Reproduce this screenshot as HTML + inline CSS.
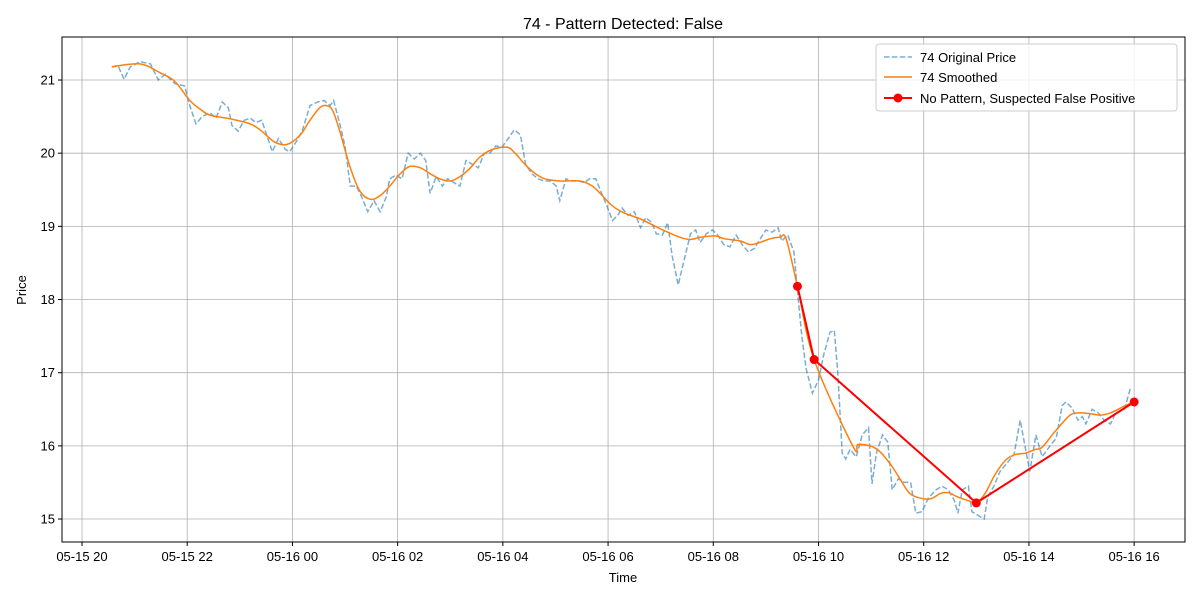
<!DOCTYPE html>
<html><head><meta charset="utf-8"><style>
body{margin:0;background:#fff;}
svg{font-family:"Liberation Sans","DejaVu Sans",sans-serif;}
</style></head><body>
<svg id="chart" width="1200" height="600" xmlns="http://www.w3.org/2000/svg">
<rect width="1200" height="600" fill="#fff"/>
<text x="623" y="29" text-anchor="middle" font-size="16">74 - Pattern Detected: False</text>
<g id="grid"></g>
<g id="series"></g>
<rect x="62" y="37" width="1123" height="505" fill="none" stroke="#000" stroke-width="1"/>
<g id="axes"></g>
<text x="623" y="582" text-anchor="middle" font-size="13">Time</text>
<text transform="translate(26,290) rotate(-90)" text-anchor="middle" font-size="13">Price</text>
<g>
<rect x="876" y="44" width="301" height="67" fill="#fff" fill-opacity="0.8" stroke="#ccc" rx="3"/>
<line x1="884" y1="57" x2="912" y2="57" stroke="#1f77b4" stroke-opacity="0.6" stroke-width="1.5" stroke-dasharray="5.5,2.4"/>
<text x="920" y="62" font-size="13">74 Original Price</text>
<line x1="884" y1="77" x2="912" y2="77" stroke="#ff7f0e" stroke-width="1.5"/>
<text x="920" y="82" font-size="13">74 Smoothed</text>
<line x1="884" y1="98" x2="912" y2="98" stroke="#f00" stroke-width="2"/>
<circle cx="898" cy="98" r="4.5" fill="#f00"/>
<text x="920" y="103" font-size="13">No Pattern, Suspected False Positive</text>
</g>
</svg>
<script>
// minutes since 05-15 20:00
const origT=[34,41,48,55,66,78,87,95,106,117,123,130,137,146,153,160,167,171,178,185,192,198,205,212,217,224,232,237,244,251,260,269,276,283,287,294,300,306,313,319,326,333,340,347,351,358,365,372,379,386,392,397,404,411,417,424,431,438,445,452,459,465,472,479,486,493,500,506,513,520,527,534,541,545,552,559,566,573,579,586,591,598,605,611,616,623,630,637,643,650,655,662,668,673,680,687,694,700,705,712,719,725,732,739,746,753,760,767,773,780,787,794,798,805,812,817,821,826,833,840,846,853,858,862,867,871,876,883,890,897,901,906,913,919,924,931,938,945,951,958,965,974,981,988,995,999,1004,1011,1015,1022,1029,1033,1040,1047,1054,1063,1070,1077,1081,1088,1095,1104,1111,1118,1122,1129,1136,1141,1145,1152,1159,1166,1173,1179,1189,1196];
const origP=[21.18,21.2,21.01,21.18,21.25,21.22,21.0,21.08,20.95,20.92,20.65,20.4,20.5,20.55,20.48,20.7,20.62,20.38,20.3,20.45,20.48,20.42,20.45,20.2,20.02,20.2,20.05,20.02,20.15,20.3,20.65,20.7,20.72,20.65,20.72,20.4,20.1,19.55,19.55,19.4,19.2,19.35,19.2,19.4,19.65,19.7,19.65,20.0,19.92,20.0,19.9,19.45,19.68,19.55,19.65,19.6,19.55,19.9,19.85,19.8,20.0,20.0,20.1,20.08,20.2,20.32,20.25,19.85,19.72,19.65,19.62,19.62,19.55,19.35,19.65,19.62,19.62,19.6,19.65,19.65,19.5,19.3,19.08,19.15,19.25,19.15,19.2,18.98,19.12,19.05,18.9,18.88,19.05,18.6,18.2,18.55,18.9,18.95,18.78,18.9,18.95,18.88,18.75,18.72,18.88,18.75,18.65,18.7,18.82,18.95,18.92,18.98,18.8,18.88,18.65,18.0,17.5,17.05,16.72,16.9,17.25,17.55,17.58,17.0,15.9,15.82,15.95,15.85,16.15,16.25,15.48,15.9,16.15,16.05,15.4,15.55,15.5,15.5,15.08,15.1,15.28,15.4,15.45,15.4,15.25,15.08,15.4,15.45,15.1,15.05,15.0,15.3,15.45,15.65,15.75,15.88,16.35,15.9,15.65,16.15,15.85,16.0,16.1,16.55,16.6,16.52,16.35,16.4,16.3,16.5,16.45,16.35,16.3,16.45,16.5,16.8];
const smT=[34,66,89,106,123,135,146,169,192,205,220,234,249,260,271,279,286,294,306,317,329,340,351,363,374,386,397,408,420,431,443,454,468,485,494,505,517,528,545,568,582,591,605,619,637,654,668,682,694,705,722,733,751,762,773,785,796,803,816,835,879,885,899,910,922,933,944,958,969,979,988,999,1011,1020,1030,1041,1053,1064,1076,1087,1095,1110,1127,1138,1150,1161,1173,1190,1200];
const smP=[21.18,21.22,21.1,20.98,20.72,20.6,20.52,20.47,20.4,20.3,20.15,20.12,20.25,20.45,20.62,20.65,20.58,20.3,19.8,19.48,19.37,19.42,19.55,19.72,19.82,19.8,19.72,19.65,19.62,19.68,19.8,19.95,20.05,20.08,20.0,19.85,19.72,19.65,19.62,19.62,19.55,19.45,19.28,19.18,19.1,19.0,18.92,18.85,18.82,18.85,18.87,18.83,18.8,18.75,18.78,18.83,18.85,18.83,18.18,17.18,16.0,16.02,16.0,15.92,15.75,15.55,15.35,15.28,15.28,15.35,15.36,15.3,15.25,15.22,15.35,15.6,15.8,15.88,15.9,15.95,15.98,16.2,16.42,16.45,16.44,16.42,16.45,16.55,16.6];
const patT=[816,835,1020,1200];
const patP=[18.18,17.18,15.22,16.6];
const xTicks=[0,120,240,360,480,600,720,840,960,1080,1200];
const xLabels=["05-15 20","05-15 22","05-16 00","05-16 02","05-16 04","05-16 06","05-16 08","05-16 10","05-16 12","05-16 14","05-16 16"];
const yTicks=[15,16,17,18,19,20,21];

const X0=62,X1=1185,Y0=37,Y1=542;
const tMin=-22.8,tMax=1258,pMin=14.686,pMax=21.588;
const sx=t=>X0+(t-tMin)/(tMax-tMin)*(X1-X0);
const sy=p=>Y1-(p-pMin)/(pMax-pMin)*(Y1-Y0);
const NS="http://www.w3.org/2000/svg";
function mk(tag,attrs,parent){const e=document.createElementNS(NS,tag);for(const k in attrs)e.setAttribute(k,attrs[k]);parent.appendChild(e);return e;}
const grid=document.getElementById('grid'),axes=document.getElementById('axes'),ser=document.getElementById('series');
xTicks.forEach((t,i)=>{const x=sx(t);
 const g=mk('line',{x1:x,x2:x,y1:Y0,y2:Y1,stroke:'#b0b0b0','stroke-width':0.8},grid);
 
 
 mk('line',{x1:x,x2:x,y1:Y1,y2:Y1+4,stroke:'#000'},axes);
 const tx=mk('text',{x:x,y:Y1+19,'text-anchor':'middle','font-size':13},axes);tx.textContent=xLabels[i];
 
 
});
yTicks.forEach(p=>{const y=sy(p);
 const g=mk('line',{x1:X0,x2:X1,y1:y,y2:y,stroke:'#b0b0b0','stroke-width':0.8},grid);
 
 
 mk('line',{x1:X0-4,x2:X0,y1:y,y2:y,stroke:'#000'},axes);
 const tx=mk('text',{x:X0-7,y:y+4.5,'text-anchor':'end','font-size':13},axes);tx.textContent=p;
 
 
});
const pts=(T,P)=>T.map((t,i)=>sx(t).toFixed(1)+','+sy(P[i]).toFixed(1)).join(' ');
function smoothPath(T,P){
 const p=T.map((t,i)=>[sx(t),sy(P[i])]);
 let d='M'+p[0][0].toFixed(1)+','+p[0][1].toFixed(1);
 for(let i=0;i<p.length-1;i++){
  const p0=p[i-1]||p[i],p1=p[i],p2=p[i+1],p3=p[i+2]||p2;
  const c1=[p1[0]+(p2[0]-p0[0])/6,p1[1]+(p2[1]-p0[1])/6];
  const c2=[p2[0]-(p3[0]-p1[0])/6,p2[1]-(p3[1]-p1[1])/6];
  d+=' C'+c1.map(v=>v.toFixed(1)).join(',')+' '+c2.map(v=>v.toFixed(1)).join(',')+' '+p2.map(v=>v.toFixed(1)).join(',');
 }
 return d;
}
const o=mk('polyline',{points:pts(origT,origP),fill:'none',stroke:'#1f77b4','stroke-opacity':0.6,'stroke-width':1.5,'stroke-dasharray':'5.5,2.4'},ser);


const s=mk('path',{d:smoothPath(smT,smP),fill:'none',stroke:'#ff7f0e','stroke-width':1.5,'stroke-linejoin':'round'},ser);


const r=mk('polyline',{points:pts(patT,patP),fill:'none',stroke:'#f00','stroke-width':2},ser);


patT.forEach((t,i)=>{const c=mk('circle',{cx:sx(t),cy:sy(patP[i]),r:4.5,fill:'#f00'},ser);
 
 
});
</script>
</body></html>
